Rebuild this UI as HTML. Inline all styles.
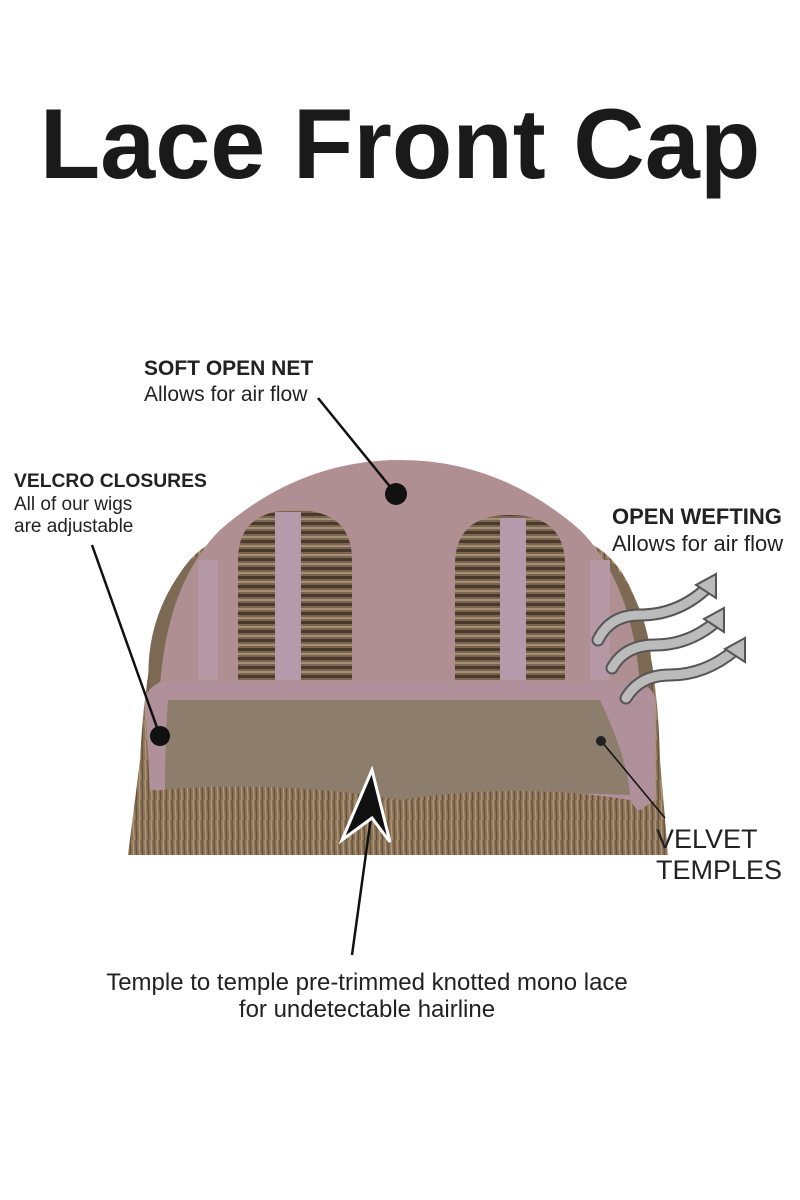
<!DOCTYPE html>
<html><head><style>
body{margin:0;background:#fff;}
svg{display:block}
text{font-family:"Liberation Sans",sans-serif;}
</style></head><body>
<svg width="800" height="1200" viewBox="0 0 800 1200">
<defs>
<pattern id="hair" width="6" height="20" patternUnits="userSpaceOnUse">
<rect width="6" height="20" fill="#8a7358"/>
<line x1="1" y1="0" x2="2" y2="20" stroke="#b39a78" stroke-width="1.2"/>
<line x1="4" y1="0" x2="4.5" y2="20" stroke="#5e4a36" stroke-width="1"/>
</pattern>
<pattern id="weft" width="10" height="9" patternUnits="userSpaceOnUse">
<rect width="10" height="9" fill="#7a6550"/>
<rect y="0" width="10" height="3" fill="#4a3a2e"/>
<rect y="5" width="10" height="2" fill="#a58f72"/>
</pattern>
</defs>
<text x="400" y="178" text-anchor="middle" font-size="99" font-weight="bold" fill="#1a1a1a">Lace Front Cap</text>

<path d="M128 855 L140 760 Q150 560 220 540 L580 540 Q655 560 660 760 L668 855 Z" fill="url(#hair)"/>
<path d="M150 700 Q140 620 190 560 L230 545 L230 700 Z" fill="#7d6a55"/>
<path d="M650 700 Q660 620 610 560 L570 545 L570 700 Z" fill="#7d6a55"/>
<path d="M160 760 Q150 600 220 530 Q300 460 400 460 Q500 460 580 530 Q650 600 640 760 Z" fill="#b08f92"/>
<path d="M238 680 L238 560 Q238 510 295 510 Q352 510 352 560 L352 680 Z" fill="url(#weft)"/>
<rect x="275" y="512" width="26" height="168" fill="#b59aab"/>
<path d="M455 680 L455 565 Q455 515 510 515 Q565 515 565 565 L565 680 Z" fill="url(#weft)"/>
<rect x="500" y="518" width="26" height="162" fill="#b59aab"/>
<rect x="198" y="560" width="20" height="120" fill="#b598a4"/>
<rect x="590" y="560" width="20" height="120" fill="#b598a4"/>
<path d="M145 700 Q145 690 160 682 L640 682 Q655 690 655 700 L655 800 L640 810 L150 790 Z" fill="#b0909a"/>
<path d="M168 700 L600 700 Q628 760 630 795 Q520 790 400 800 Q280 795 165 790 Q165 740 168 700 Z" fill="#8d7d6c"/>
<path d="M160 790 Q280 780 400 800 Q520 782 630 800 L668 855 L128 855 Z" fill="url(#hair)"/>

<g fill="none" stroke-linecap="round">
<path d="M598 640 Q610 615 640 615 Q680 615 710 585" stroke="#555" stroke-width="13"/>
<path d="M598 640 Q610 615 640 615 Q680 615 710 585" stroke="#bbb" stroke-width="9"/>
<path d="M612 668 Q625 645 655 645 Q690 645 718 620" stroke="#555" stroke-width="13"/>
<path d="M612 668 Q625 645 655 645 Q690 645 718 620" stroke="#bbb" stroke-width="9"/>
<path d="M626 698 Q640 675 670 675 Q705 675 735 650" stroke="#555" stroke-width="13"/>
<path d="M626 698 Q640 675 670 675 Q705 675 735 650" stroke="#bbb" stroke-width="9"/>
</g>
<polygon points="716,574 696,585 716,598" fill="#bbb" stroke="#555" stroke-width="2"/>
<polygon points="724,608 704,619 724,632" fill="#bbb" stroke="#555" stroke-width="2"/>
<polygon points="745,638 725,649 745,662" fill="#bbb" stroke="#555" stroke-width="2"/>

<line x1="318" y1="398" x2="396" y2="494" stroke="#111" stroke-width="2.5"/>
<circle cx="396" cy="494" r="11" fill="#111"/>
<line x1="92" y1="545" x2="160" y2="736" stroke="#111" stroke-width="2.5"/>
<circle cx="160" cy="736" r="10" fill="#111"/>
<line x1="602" y1="742" x2="665" y2="818" stroke="#111" stroke-width="1.5"/>
<circle cx="601" cy="741" r="5" fill="#222"/>
<line x1="352" y1="955" x2="372" y2="810" stroke="#111" stroke-width="2.5"/>
<polygon points="372,770 342,840 372,818 390,842" fill="#111" stroke="#fff" stroke-width="3"/>

<text x="144" y="375" font-size="21" font-weight="bold" fill="#222">SOFT OPEN NET</text>
<text x="144" y="401" font-size="21" fill="#222">Allows for air flow</text>
<text x="14" y="487" font-size="19.3" font-weight="bold" fill="#222">VELCRO CLOSURES</text>
<text x="14" y="510" font-size="19" fill="#222">All of our wigs</text>
<text x="14" y="532" font-size="19" fill="#222">are adjustable</text>
<text x="612" y="524" font-size="22" font-weight="bold" fill="#222">OPEN WEFTING</text>
<text x="612" y="551" font-size="22" fill="#222">Allows for air flow</text>
<text x="656" y="848" font-size="27" fill="#222">VELVET</text>
<text x="656" y="879" font-size="27" fill="#222">TEMPLES</text>
<text x="367" y="990" text-anchor="middle" font-size="24" fill="#222">Temple to temple pre-trimmed knotted mono lace</text>
<text x="367" y="1017" text-anchor="middle" font-size="24" fill="#222">for undetectable hairline</text>
</svg>
</body></html>
